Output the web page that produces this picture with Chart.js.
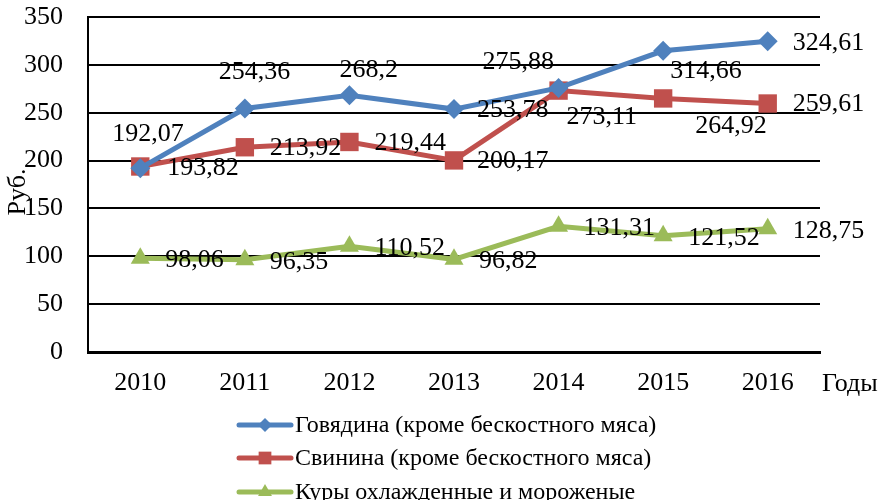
<!DOCTYPE html>
<html>
<head>
<meta charset="utf-8">
<script src="https://cdn.jsdelivr.net/npm/chart.js@4.4.1/dist/chart.umd.min.js"></script>
<style>
  html, body { margin: 0; padding: 0; background: #fff; }
</style>
</head>
<body>
<canvas id="meatChart" width="887" height="500"></canvas>
<script>
const years = ['2010', '2011', '2012', '2013', '2014', '2015', '2016'];
const beef = [192.07, 254.36, 268.2, 253.78, 275.88, 314.66, 324.61];
const pork = [193.82, 213.92, 219.44, 200.17, 273.11, 264.92, 259.61];
const chicken = [98.06, 96.35, 110.52, 96.82, 131.31, 121.52, 128.75];
const seriesNames = [
  'Говядина (кроме бескостного мяса)',
  'Свинина (кроме бескостного мяса)',
  'Куры охлажденные и мороженые'
];
const colors = ['#4F81BD', '#C0504D', '#9BBB59'];

// where each value label sits, relative to its point (left edge, middle)
const labelOffsets = [
  [[-28, -34], [-26, -36], [-10, -25], [23, 1], [-76, -26], [7, 20], [25, 2]],
  [[27, 2], [25, 1], [25, 1], [23, 1], [8, 27], [32, 28], [25, 1]],
  [[25, 2], [25, 2], [25, 2], [25, 2], [25, 2], [25, 2], [25, 2]]
];

const FONT = '"Liberation Serif", "Times New Roman", serif';

function marker(ctx, style, x, y, r) {
  ctx.beginPath();
  if (style === 'rectRot') {
    ctx.moveTo(x - r, y); ctx.lineTo(x, y - r); ctx.lineTo(x + r, y); ctx.lineTo(x, y + r);
  } else if (style === 'rect') {
    const s = r * Math.SQRT1_2;
    ctx.rect(x - s, y - s, 2 * s, 2 * s);
  } else {
    ctx.moveTo(x, y - r);
    ctx.lineTo(x + r * 0.866, y + r * 0.5);
    ctx.lineTo(x - r * 0.866, y + r * 0.5);
  }
  ctx.closePath();
  ctx.fill();
}

const extras = {
  id: 'extras',
  afterDatasetsDraw(chart) {
    const ctx = chart.ctx;
    ctx.save();
    ctx.fillStyle = '#000';
    ctx.font = '26px ' + FONT;
    ctx.textAlign = 'left';
    ctx.textBaseline = 'middle';

    // value labels
    chart.data.datasets.forEach((ds, i) => {
      chart.getDatasetMeta(i).data.forEach((pt, j) => {
        const [dx, dy] = labelOffsets[i][j];
        ctx.fillText(String(ds.data[j]).replace('.', ','), pt.x + dx, pt.y + dy);
      });
    });

    // axis titles
    ctx.fillText('Годы', 822, 384);
    ctx.save();
    ctx.translate(18, 192);
    ctx.rotate(-Math.PI / 2);
    ctx.textAlign = 'center';
    ctx.fillText('Руб.', 0, 0);
    ctx.restore();

    // legend, one row per series
    ctx.font = '24px ' + FONT;
    const rowY = [425, 458, 492];
    const legendR = [7, 9, 8];
    chart.data.datasets.forEach((ds, i) => {
      const y = rowY[i];
      ctx.strokeStyle = ds.borderColor;
      ctx.lineWidth = 5;
      ctx.lineCap = 'round';
      ctx.beginPath();
      ctx.moveTo(239, y);
      ctx.lineTo(291, y);
      ctx.stroke();
      ctx.fillStyle = ds.borderColor;
      marker(ctx, ds.pointStyle, 265, y, legendR[i]);
      ctx.fillStyle = '#000';
      ctx.fillText(ds.label, 295, y + 1);
    });
    ctx.restore();
  }
};

const ctx = document.getElementById('meatChart').getContext('2d');
new Chart(ctx, {
  type: 'line',
  data: {
    labels: years,
    datasets: [
      { label: seriesNames[0], data: beef, pointStyle: 'rectRot', pointRadius: 10 },
      { label: seriesNames[1], data: pork, pointStyle: 'rect', pointRadius: 13 },
      { label: seriesNames[2], data: chicken, pointStyle: 'triangle', pointRadius: 11 }
    ].map((ds, i) => Object.assign(ds, {
      borderColor: colors[i],
      backgroundColor: colors[i],
      pointBackgroundColor: colors[i],
      pointBorderColor: colors[i],
      pointBorderWidth: 0,
      borderWidth: 5,
      tension: 0
    }))
  },
  options: {
    responsive: false,
    animation: false,
    devicePixelRatio: 1,
    layout: { padding: { top: 17, right: 67, left: 0, bottom: 0 } },
    plugins: {
      legend: { display: false },
      tooltip: { enabled: false }
    },
    scales: {
      x: {
        offset: true,
        grid: { display: false, drawTicks: false },
        border: { display: true, color: '#000', width: 3 },
        ticks: { color: '#000', font: { family: FONT, size: 26 }, padding: 16 },
        afterFit: s => { s.height = 148; s.paddingLeft = 0; s.paddingRight = 0; }
      },
      y: {
        min: 0,
        max: 350,
        grid: { color: '#000', lineWidth: 2, drawTicks: false },
        border: { display: true, color: '#000', width: 2 },
        ticks: { stepSize: 50, color: '#000', font: { family: FONT, size: 26 }, padding: 25 },
        afterFit: s => { s.width = 88; s.paddingTop = 0; s.paddingBottom = 0; }
      }
    }
  },
  plugins: [extras]
});
</script>
</body>
</html>
